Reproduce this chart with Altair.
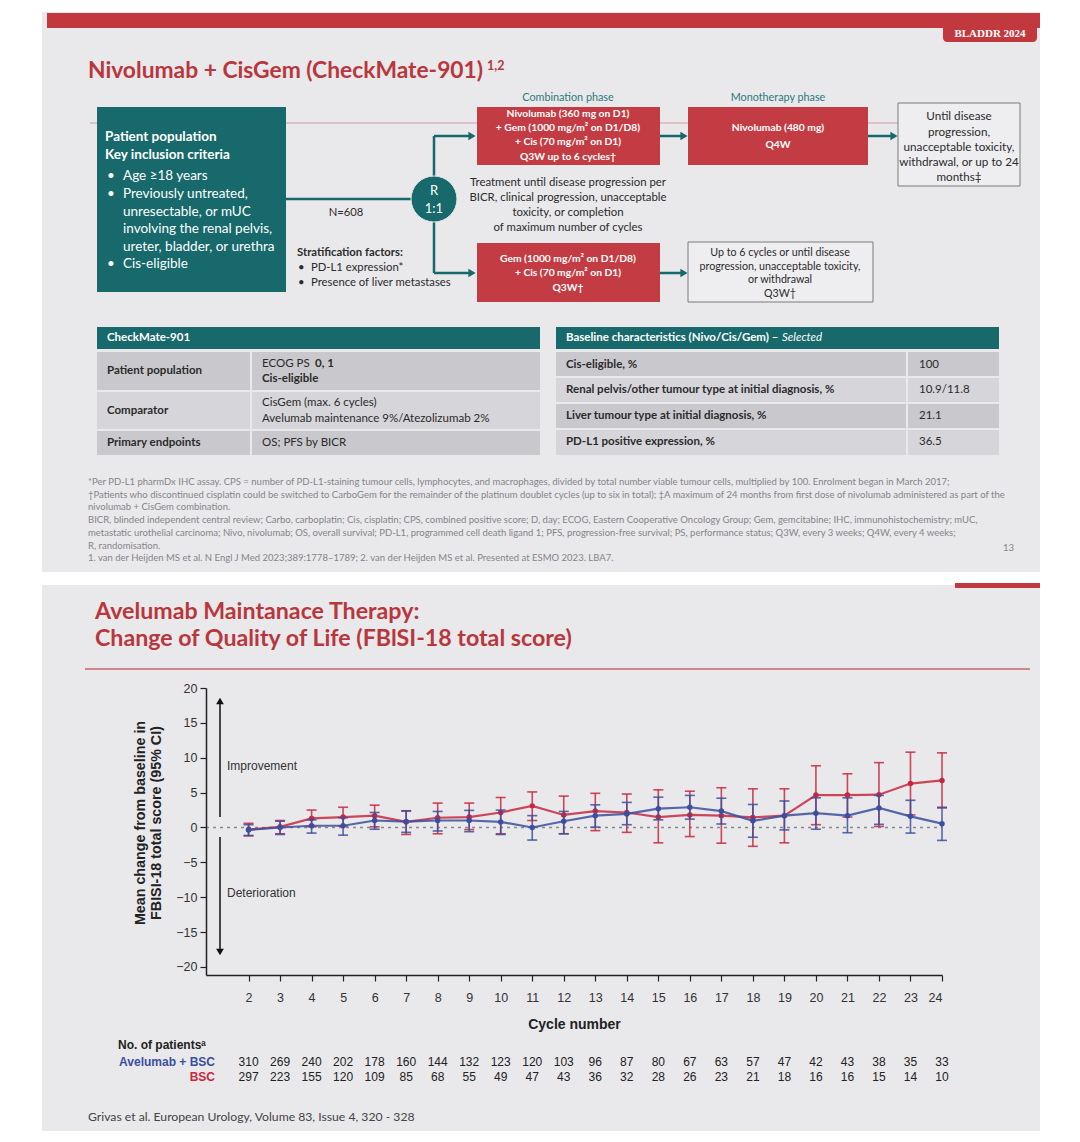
import altair as alt
import pandas as pd

# ---------------- chart data ----------------
cycles = list(range(2, 25))
ave_mean = [-0.35, 0.0, 0.25, 0.25, 1.0, 0.85, 1.0, 1.0, 0.8, 0.0, 0.9, 1.7, 1.95, 2.7, 2.9, 2.35, 0.95, 1.7, 2.05, 1.7, 2.8, 1.6, 0.55]
ave_lo = [-1.15, -1.0, -0.8, -1.1, -0.25, -0.7, -0.5, -0.6, -1.0, -1.8, -0.9, 0.05, 0.4, 1.1, 1.2, 0.5, -1.4, -0.35, -0.25, -0.75, 0.45, -0.8, -1.85]
ave_hi = [0.4, 0.9, 1.1, 1.4, 2.15, 2.35, 2.3, 2.45, 2.5, 1.7, 2.3, 3.25, 3.6, 4.35, 4.6, 4.2, 3.3, 3.8, 4.25, 4.25, 4.6, 3.9, 2.9]
bsc_mean = [-0.3, 0.1, 1.3, 1.5, 1.7, 0.8, 1.4, 1.5, 2.15, 3.1, 1.8, 2.35, 2.15, 1.5, 1.8, 1.7, 1.45, 1.7, 4.65, 4.65, 4.7, 6.3, 6.75]
bsc_lo = [-1.2, -0.9, 0.1, 0.2, 0.1, -1.0, -0.9, -0.3, -0.9, 1.0, -0.9, -0.45, -0.7, -2.2, -1.3, -2.25, -2.7, -2.2, 0.4, 1.5, 0.15, 1.8, 2.8]
bsc_hi = [0.6, 1.0, 2.5, 2.9, 3.2, 2.4, 3.5, 3.5, 4.3, 5.1, 4.5, 4.9, 4.8, 5.4, 5.2, 5.7, 5.55, 5.55, 8.85, 7.7, 9.3, 10.8, 10.7]
n_ave = [310, 269, 240, 202, 178, 160, 144, 132, 123, 120, 103, 96, 87, 80, 67, 63, 57, 47, 42, 43, 38, 35, 33]
n_bsc = [297, 223, 155, 120, 109, 85, 68, 55, 49, 47, 43, 36, 32, 28, 26, 23, 21, 18, 16, 16, 15, 14, 10]
y_ticks = [-20, -15, -10, -5, 0, 5, 10, 15, 20]
x_domain = [0.65, 24]
y_domain = [-21.15, 20]

# ---------------- layout ----------------
W, H = 1064, 1126
OFF = 8


def px(v):
    return v - OFF


SLIDE_RED = "#c1393f"
TITLE_RED = "#b8373d"
TEAL = "#17696b"
TEAL_TXT = "#2a7b7d"
BG = "#e9e8eb"
DARK = "#2b2b2b"
WHITE = "#ffffff"
GRAY = "#858588"
BSC_RED = "#c8283e"
AVE_BLUE = "#3b4f9e"
ROW_A = "#c9c8cc"
ROW_B = "#d6d5d9"

NOAX = dict(scale=None, axis=None)


def rect_layer(rows, **mark):
    df = pd.DataFrame([dict(x=px(a), y=px(b), x2=px(c), y2=px(d), f=f) for a, b, c, d, f in rows])
    return alt.Chart(df).mark_rect(**mark).encode(
        x=alt.X("x:Q", **NOAX), x2="x2:Q", y=alt.Y("y:Q", **NOAX), y2="y2:Q",
        color=alt.Color("f:N", scale=None, legend=None))


def outline_layer(rows):
    df = pd.DataFrame([dict(x=px(a), y=px(b), x2=px(c), y2=px(d)) for a, b, c, d in rows])
    return alt.Chart(df).mark_rect(fill="#eeedf0", stroke="#7a7a7a", strokeWidth=1).encode(
        x=alt.X("x:Q", **NOAX), x2="x2:Q", y=alt.Y("y:Q", **NOAX), y2="y2:Q")


def rule_layer(rows, color, width):
    df = pd.DataFrame([dict(x=px(a), y=px(b), x2=px(c), y2=px(d)) for a, b, c, d in rows])
    return alt.Chart(df).mark_rule(color=color, strokeWidth=width).encode(
        x=alt.X("x:Q", **NOAX), x2="x2:Q", y=alt.Y("y:Q", **NOAX), y2="y2:Q")


def shape_layer(rows, color):
    df = pd.DataFrame([dict(x=px(a), y=px(b), s=s, sz=sz) for a, b, s, sz in rows])
    return alt.Chart(df).mark_point(filled=True, color=color, opacity=1).encode(
        x=alt.X("x:Q", **NOAX), y=alt.Y("y:Q", **NOAX),
        shape=alt.Shape("s:N", scale=None, legend=None),
        size=alt.Size("sz:Q", scale=None, legend=None))


texts = []


def T(x, y, s, size=10.5, color=DARK, font="Lato", weight="normal", align="left", style="normal", angle=0):
    texts.append(dict(x=px(x), y=px(y), t=s, fs=size, c=color, font=font, weight=weight,
                      align=align, style=style, angle=angle))


# ---- top slide text ----
T(990, 34, "BLADDR 2024", 11, WHITE, "Liberation Serif", "bold", "center")
T(88, 71, "Nivolumab + CisGem (CheckMate-901)", 22.8, TITLE_RED, weight="bold")
T(487, 66, "1,2", 12.5, TITLE_RED, weight="bold")

T(105, 137, "Patient population", 13.5, WHITE, weight="bold")
T(105, 155, "Key inclusion criteria", 13.5, WHITE, weight="bold")
for yy in (176, 194, 264):
    T(107, yy, "•", 13.5, WHITE)
for yy, s in [(176, "Age ≥18 years"), (194, "Previously untreated,"), (212, "unresectable, or mUC"),
              (229, "involving the renal pelvis,"), (247, "ureter, bladder, or urethra"), (264, "Cis-eligible")]:
    T(123, yy, s, 13.5, WHITE)

T(434, 191, "R", 13, WHITE, align="center")
T(434, 209, "1:1", 13, WHITE, align="center")
T(346, 213, "N=608", 11.2, DARK, align="center")
T(297, 253, "Stratification factors:", 11.3, DARK, weight="bold")
T(298, 268, "•", 11.3)
T(298, 283, "•", 11.3)
T(311, 268, "PD-L1 expression*", 11.3)
T(311, 283, "Presence of liver metastases", 11.3)

T(568, 98, "Combination phase", 10.8, TEAL_TXT, align="center")
T(778, 98, "Monotherapy phase", 10.8, TEAL_TXT, align="center")
for yy, s in [(114, "Nivolumab (360 mg on D1)"), (128, "+ Gem (1000 mg/m² on D1/D8)"),
              (142, "+ Cis (70 mg/m² on D1)"), (157, "Q3W up to 6 cycles†")]:
    T(568, yy, s, 10.3, WHITE, weight="bold", align="center")
T(778, 128, "Nivolumab (480 mg)", 10.3, WHITE, weight="bold", align="center")
T(778, 145, "Q4W", 10.3, WHITE, weight="bold", align="center")
for yy, s in [(116, "Until disease"), (132, "progression,"), (147, "unacceptable toxicity,"),
              (162, "withdrawal, or up to 24"), (177, "months‡")]:
    T(959, yy, s, 11.7, DARK, align="center")
for yy, s in [(183, "Treatment until disease progression per"), (198, "BICR, clinical progression, unacceptable"),
              (213, "toxicity, or completion"), (228, "of maximum number of cycles")]:
    T(568, yy, s, 11.4, DARK, align="center")
for yy, s in [(259, "Gem (1000 mg/m² on D1/D8)"), (273, "+ Cis (70 mg/m² on D1)"), (288, "Q3W†")]:
    T(568, yy, s, 10.3, WHITE, weight="bold", align="center")
for yy, s in [(253, "Up to 6 cycles or until disease"), (267, "progression, unacceptable toxicity,"),
              (280, "or withdrawal"), (294, "Q3W†")]:
    T(780, yy, s, 10.7, DARK, align="center")

# tables
TS = 11.5
T(107, 338, "CheckMate-901", TS, WHITE, weight="bold")
T(107, 371, "Patient population", TS, DARK, weight="bold")
T(262, 364, "ECOG PS", TS)
T(315, 364, "0, 1", TS, weight="bold")
T(262, 379, "Cis-eligible", TS, weight="bold")
T(107, 411, "Comparator", TS, weight="bold")
T(262, 403, "CisGem (max. 6 cycles)", TS)
T(262, 419, "Avelumab maintenance 9%/Atezolizumab 2%", TS)
T(107, 443, "Primary endpoints", TS, weight="bold")
T(262, 443, "OS; PFS by BICR", TS)

T(566, 338, "Baseline characteristics (Nivo/Cis/Gem) –", TS, WHITE, weight="bold")
T(782, 338, "Selected", TS, WHITE, style="italic")
for yy, a, b in [(365, "Cis-eligible, %", "100"),
                 (390, "Renal pelvis/other tumour type at initial diagnosis, %", "10.9/11.8"),
                 (416, "Liver tumour type at initial diagnosis, %", "21.1"),
                 (442, "PD-L1 positive expression, %", "36.5")]:
    T(566, yy, a, TS, weight="bold")
    T(919, yy, b, TS)

foot = [
    "*Per PD-L1 pharmDx IHC assay. CPS = number of PD-L1-staining tumour cells, lymphocytes, and macrophages, divided by total number viable tumour cells, multiplied by 100. Enrolment began in March 2017;",
    "†Patients who discontinued cisplatin could be switched to CarboGem for the remainder of the platinum doublet cycles (up to six in total); ‡A maximum of 24 months from first dose of nivolumab administered as part of the",
    "nivolumab + CisGem combination.",
    "BICR, blinded independent central review; Carbo, carboplatin; Cis, cisplatin; CPS, combined positive score; D, day; ECOG, Eastern Cooperative Oncology Group; Gem, gemcitabine; IHC, immunohistochemistry; mUC,",
    "metastatic urothelial carcinoma; Nivo, nivolumab; OS, overall survival; PD-L1, programmed cell death ligand 1; PFS, progression-free survival; PS, performance status; Q3W, every 3 weeks; Q4W, every 4 weeks;",
    "R, randomisation.",
    "1. van der Heijden MS et al. N Engl J Med 2023;389:1778–1789; 2. van der Heijden MS et al. Presented at ESMO 2023. LBA7.",
]
for i, s in enumerate(foot):
    T(88, 482 + i * 12.7, s, 9.5, GRAY)
T(1003, 548, "13", 9.5, GRAY)

# ---- bottom slide text ----
T(95, 612, "Avelumab Maintanace Therapy:", 23.2, TITLE_RED, weight="bold")
T(95, 639, "Change of Quality of Life (FBlSI-18 total score)", 23.2, TITLE_RED, weight="bold")
T(141, 823, "Mean change from baseline in", 14.3, "#222222", "Liberation Sans", "bold", "center", angle=270)
T(157, 823, "FBISI-18 total score (95% CI)", 14.3, "#222222", "Liberation Sans", "bold", "center", angle=270)
T(227, 766, "Improvement", 12, "#333333", "Liberation Sans")
T(227, 893, "Deterioration", 12, "#333333", "Liberation Sans")
T(118, 1045, "No. of patientsᵃ", 12, "#222222", "Liberation Sans", "bold")
T(215, 1062, "Avelumab + BSC", 12, AVE_BLUE, "Liberation Sans", "bold", "right")
T(215, 1077, "BSC", 12, BSC_RED, "Liberation Sans", "bold", "right")
T(88, 1117, "Grivas et al. European Urology, Volume 83, Issue 4, 320 - 328", 12.2, "#444444")

tdf = pd.DataFrame(texts)
text_layers = []
for key, g in tdf.groupby(["font", "weight", "align", "style", "angle"]):
    font, weight, align, style, angle = key
    text_layers.append(
        alt.Chart(g[["x", "y", "t", "fs", "c"]]).mark_text(
            font=font, fontWeight=weight, align=align, baseline="middle", fontStyle=style, angle=int(angle)
        ).encode(
            x=alt.X("x:Q", **NOAX), y=alt.Y("y:Q", **NOAX), text="t:N",
            size=alt.Size("fs:Q", scale=None, legend=None),
            color=alt.Color("c:N", scale=None, legend=None)))

# ---- shapes ----
backgrounds = rect_layer([
    (42, 12, 1040, 572, BG),
    (42, 585, 1040, 1131, BG),
    (47, 13, 1040, 28, SLIDE_RED),
    (955, 583, 1040, 588, SLIDE_RED),
])
tab = rect_layer([(943, 24, 1037, 42, SLIDE_RED)], cornerRadius=4)
thin_lines = rule_layer([(90, 123, 1020, 123)], "#d79a9c", 1)
bottom_line = rule_layer([(85, 669, 1030, 669)], "#c4686c", 1.5)
boxes = rect_layer([
    (97, 107, 286, 292, TEAL),
    (477, 107, 660, 165, "#c43c43"),
    (688, 107, 868, 165, "#c43c43"),
    (477, 243, 660, 302, "#c43c43"),
    (97, 327, 540, 349, TEAL),
    (556, 327, 999, 349, TEAL),
    (97, 352, 250, 390, ROW_A), (252, 352, 540, 390, ROW_A),
    (97, 392, 250, 429, ROW_B), (252, 392, 540, 429, ROW_B),
    (97, 431, 250, 455, ROW_A), (252, 431, 540, 455, ROW_A),
    (556, 352, 906, 376, ROW_A), (908, 352, 999, 376, ROW_A),
    (556, 378, 906, 402, ROW_B), (908, 378, 999, 402, ROW_B),
    (556, 404, 906, 428, ROW_A), (908, 404, 999, 428, ROW_A),
    (556, 430, 906, 455, ROW_B), (908, 430, 999, 455, ROW_B),
])
white_boxes = outline_layer([(898, 103, 1020, 186), (688, 242, 873, 302)])
connectors = rule_layer([
    (286, 199, 420, 199),
    (434, 136, 434, 273),
    (434, 136, 470, 136),
    (434, 273, 470, 273),
    (660, 136, 682, 136),
    (868, 136, 892, 136),
    (660, 273, 682, 273),
], TEAL, 2.5)
arrowheads = shape_layer([
    (472, 136, "triangle-right", 70), (472, 273, "triangle-right", 70),
    (684, 136, "triangle-right", 70), (894, 136, "triangle-right", 70),
    (684, 273, "triangle-right", 70),
], TEAL)
rand_circle = alt.Chart(pd.DataFrame({"x": [px(434)], "y": [px(199)]})).mark_circle(
    size=2116, color=TEAL, opacity=1, stroke="#e9e8eb", strokeWidth=1).encode(
    x=alt.X("x:Q", **NOAX), y=alt.Y("y:Q", **NOAX))
qol_arrows = rule_layer([(220, 704, 220, 817), (220, 837, 220, 949)], "#111111", 1.5)
qol_heads = shape_layer([(220, 701, "triangle-up", 60), (220, 952, "triangle-down", 60)], "#111111")

# ---- plot with real scales ----
XS = alt.Scale(domain=x_domain, range=[px(206), px(942)], nice=False, zero=False)
YS = alt.Scale(domain=y_domain, range=[px(975), px(688)], nice=False, zero=False)
XAX = alt.Axis(orient="bottom", offset=-(H - px(975)), values=cycles, title="Cycle number",
               labelFont="Liberation Sans", labelFontSize=12.5, labelColor="#333333", labelPadding=10,
               tickColor="#222222", tickSize=6, tickWidth=1.2, domainColor="#222222", domainWidth=1.5,
               titleFont="Liberation Sans", titleFontSize=14, titleFontWeight="bold", titleColor="#222222",
               titlePadding=14, grid=False, zindex=2, labelOverlap=False)
YAX = alt.Axis(orient="left", offset=-px(206), values=y_ticks, title=None,
               labelFont="Liberation Sans", labelFontSize=12.5, labelColor="#333333", labelPadding=3,
               tickColor="#222222", tickSize=6, tickWidth=1.2, domainColor="#222222", domainWidth=1.5,
               grid=False, zindex=2, labelOverlap=False)

zero_df = pd.DataFrame({"x0": [x_domain[0]], "x1": [x_domain[1]], "y": [0]})
zero_line = alt.Chart(zero_df).mark_rule(color="#8a8a8a", strokeDash=[3, 4], strokeWidth=1.6).encode(
    x=alt.X("x0:Q", scale=XS, axis=XAX), x2="x1:Q", y=alt.Y("y:Q", scale=YS, axis=YAX))


def series_layers(m, lo, hi, color):
    df = pd.DataFrame({"cycle": cycles, "mean": m, "lo": lo, "hi": hi})
    base = alt.Chart(df)
    X = alt.X("cycle:Q", scale=XS, axis=XAX)
    return [
        base.mark_rule(color=color, strokeWidth=1.6, opacity=0.85).encode(
            x=X, y=alt.Y("lo:Q", scale=YS, axis=YAX), y2="hi:Q"),
        base.mark_tick(color=color, orient="horizontal", size=10, thickness=1.6, opacity=0.85).encode(
            x=X, y=alt.Y("lo:Q", scale=YS, axis=YAX)),
        base.mark_tick(color=color, orient="horizontal", size=10, thickness=1.6, opacity=0.85).encode(
            x=X, y=alt.Y("hi:Q", scale=YS, axis=YAX)),
        base.mark_line(color=color, strokeWidth=2.2, opacity=0.85).encode(
            x=X, y=alt.Y("mean:Q", scale=YS, axis=YAX)),
        base.mark_circle(color=color, size=30, opacity=1).encode(
            x=X, y=alt.Y("mean:Q", scale=YS, axis=YAX)),
    ]


nr_df = pd.DataFrame({"cycle": cycles, "ave": n_ave, "bsc": n_bsc})
nr_ave = alt.Chart(nr_df).mark_text(font="Liberation Sans", fontSize=12, color="#222222").encode(
    x=alt.X("cycle:Q", scale=XS, axis=XAX), y=alt.value(px(1062)), text="ave:Q")
nr_bsc = alt.Chart(nr_df).mark_text(font="Liberation Sans", fontSize=12, color="#222222").encode(
    x=alt.X("cycle:Q", scale=XS, axis=XAX), y=alt.value(px(1077)), text="bsc:Q")

plot = alt.layer(
    zero_line,
    *series_layers(bsc_mean, bsc_lo, bsc_hi, BSC_RED),
    *series_layers(ave_mean, ave_lo, ave_hi, AVE_BLUE),
    nr_ave, nr_bsc,
)

chart = alt.layer(
    backgrounds, tab, thin_lines, bottom_line, boxes, white_boxes, connectors, arrowheads, rand_circle,
    qol_arrows, qol_heads, *text_layers, plot,
).properties(
    width=W, height=H, padding=0, background="white",
    autosize=alt.AutoSizeParams(type="none"),
).configure_view(stroke=None)

chart.save("out.html", embed_options={"renderer": "svg", "actions": False})
